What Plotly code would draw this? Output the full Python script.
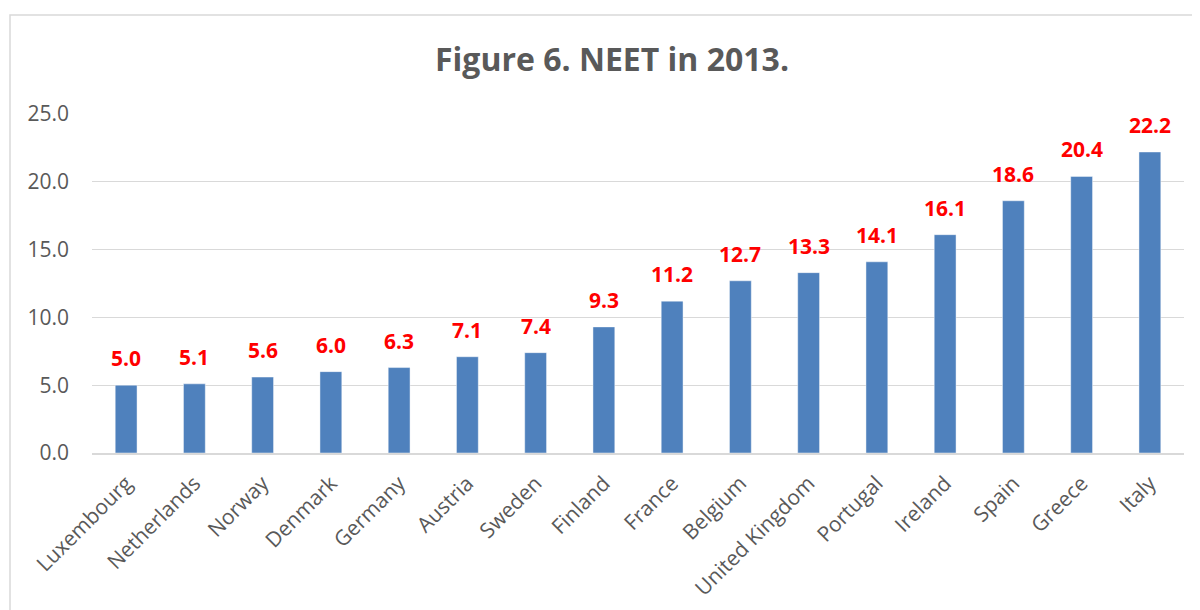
import plotly.graph_objects as go

countries = ["Luxembourg", "Netherlands", "Norway", "Denmark", "Germany", "Austria",
             "Sweden", "Finland", "France", "Belgium", "United Kingdom", "Portugal",
             "Ireland", "Spain", "Greece", "Italy"]
neet = [5.0, 5.1, 5.6, 6.0, 6.3, 7.1, 7.4, 9.3, 11.2, 12.7, 13.3, 14.1, 16.1, 18.6, 20.4, 22.2]
tick_vals = [0, 5, 10, 15, 20, 25]
title_text = "Figure 6. NEET in 2013."

# page has an 8px body margin; figure coordinates are page coords minus 8
OFF = 8
W, H = 1200 - OFF, 610 - OFF
L = 92 - OFF
T = 114 - OFF
R = W - (1184 - OFF)
B = H - (453 - OFF)
pw, ph = W - L - R, H - T - B

FONT = "Open Sans"
GRAY = "#595959"

fig = go.Figure()
fig.add_trace(go.Bar(
    x=countries, y=neet,
    marker=dict(color="#4f81bd", line=dict(color="rgba(255,255,255,0.45)", width=1)),
    hoverinfo="x+y",
))

for c, v in zip(countries, neet):
    fig.add_annotation(
        x=c, y=v, text=f"<b>{v:.1f}</b>", showarrow=False,
        yanchor="bottom", yshift=11,
        font=dict(family=FONT, size=21, color="#ff0000"),
    )

# outer chart border (page x=10, y=15, extends beyond right/bottom)
bx0, by0 = 10 - OFF, 15 - OFF
fig.add_shape(
    type="rect", xref="paper", yref="paper",
    x0=(bx0 - L) / pw, x1=(W + 10 - L) / pw,
    y0=-(B + 10) / ph, y1=(H - B - by0) / ph,
    line=dict(color="#d9d9d9", width=1.5), fillcolor="rgba(0,0,0,0)", layer="below",
)

fig.update_layout(
    width=W, height=H,
    margin=dict(l=L, r=R, t=T, b=B, autoexpand=False),
    paper_bgcolor="white", plot_bgcolor="white",
    bargap=0.68,
    showlegend=False,
    title=dict(text=f"<b>{title_text}</b>", x=(612 - OFF) / W, xanchor="center",
               y=(H - (60 - OFF)) / H, yanchor="middle", yref="container",
               font=dict(family=FONT, size=32, color=GRAY)),
    font=dict(family=FONT, color=GRAY),
)
fig.update_xaxes(
    showline=True, linecolor="#d9d9d9", linewidth=1.5,
    tickangle=-45, tickfont=dict(family=FONT, size=21, color=GRAY),
    showgrid=False, ticks="", ticklabelstandoff=8,
)
fig.update_yaxes(
    range=[0, 25], tickvals=tick_vals, tickformat=".1f",
    showgrid=True, gridcolor="#d9d9d9", gridwidth=1.2,
    zeroline=False, showline=False, ticks="", ticklabelstandoff=22,
    tickfont=dict(family=FONT, size=21, color=GRAY),
)

fig.write_html("out.html")
